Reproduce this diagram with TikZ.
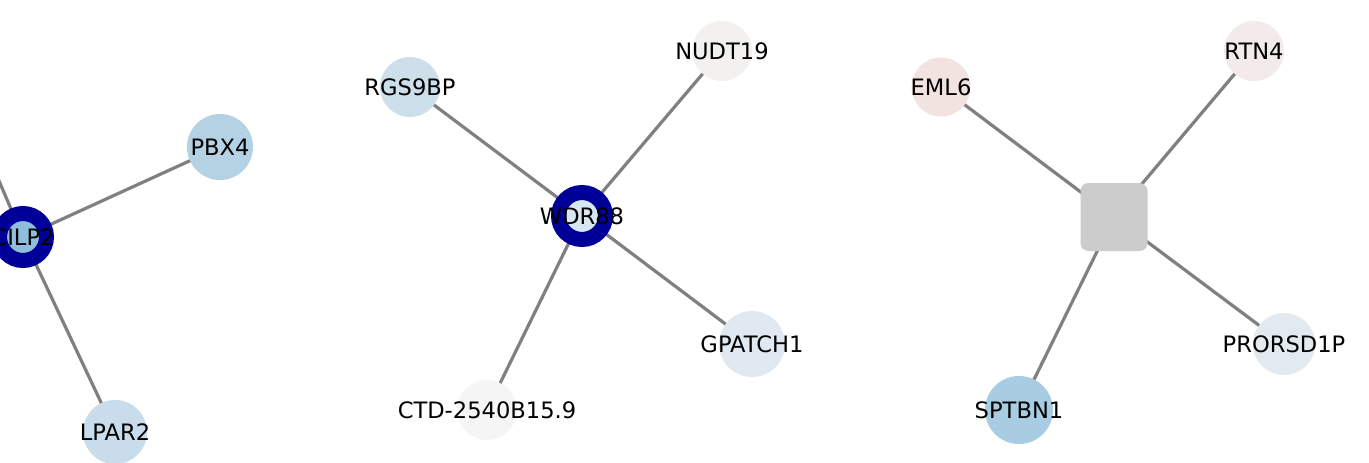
\documentclass[tikz,border=0pt]{standalone}
\usepackage{fontspec}
\setmainfont{DejaVu Sans}
\usetikzlibrary{backgrounds}
\definecolor{ring}{RGB}{0,0,153}
\definecolor{edgegray}{RGB}{128,128,128}
\definecolor{cCILP}{RGB}{143,190,220}
\definecolor{cPBX}{RGB}{180,210,228}
\definecolor{cLPAR}{RGB}{200,220,235}
\definecolor{cWDR}{RGB}{215,230,240}
\definecolor{cRGS}{RGB}{205,223,235}
\definecolor{cNUDT}{RGB}{243,241,240}
\definecolor{cGPATCH}{RGB}{224,233,242}
\definecolor{cCTD}{RGB}{245,245,245}
\definecolor{cEML}{RGB}{242,227,224}
\definecolor{cRTN}{RGB}{243,235,233}
\definecolor{cPROR}{RGB}{226,234,240}
\definecolor{cSPTBN}{RGB}{168,204,226}
\definecolor{cSquare}{RGB}{204,204,204}
\begin{document}
\begin{tikzpicture}[x=1pt,y=-1pt,
  gene/.style={circle, inner sep=0pt, draw=none},
  hub/.style={circle, inner sep=0pt, draw=ring, line width=15pt, minimum size=47pt},
  lbl/.style={font=\fontsize{22.6}{27}\selectfont, inner sep=0pt, text=black},
  link/.style={draw=edgegray, line width=3.2pt}]
\useasboundingbox (0,0) rectangle (1369,463);
\clip (0,0) rectangle (1369,463);
% cluster 1
\node[hub, fill=cCILP] (cilp) at (23,237) {};
\node[gene, fill=cPBX, minimum size=66pt] (pbx) at (220,147) {};
\node[gene, fill=cLPAR, minimum size=64pt] (lpar) at (115,432) {};
\coordinate (cout) at (-62,38);
% cluster 2
\node[hub, fill=cWDR] (wdr) at (582,216) {};
\node[gene, fill=cRGS, minimum size=60pt] (rgs) at (410,87) {};
\node[gene, fill=cNUDT, minimum size=60pt] (nudt) at (722,51) {};
\node[gene, fill=cGPATCH, minimum size=66pt] (gpatch) at (752,344) {};
\node[gene, fill=cCTD, minimum size=60pt] (ctd) at (487,410) {};
% cluster 3
\node[rectangle, rounded corners=8pt, fill=cSquare, minimum width=67pt, minimum height=68pt, inner sep=0pt] (sq) at (1114,217) {};
\node[gene, fill=cEML, minimum size=59pt] (eml) at (941,87) {};
\node[gene, fill=cRTN, minimum size=60pt] (rtn) at (1254,51) {};
\node[gene, fill=cPROR, minimum size=62pt] (pror) at (1284,344) {};
\node[gene, fill=cSPTBN, minimum size=68pt] (sptbn) at (1019,410) {};
% edges
\begin{scope}[on background layer]
\fill[white] (0,0) rectangle (1369,463);
\draw[link] (cilp.center) -- (cout);
\draw[link] (cilp.center) -- (pbx.center);
\draw[link] (cilp.center) -- (lpar.center);
\draw[link] (wdr.center) -- (rgs.center);
\draw[link] (wdr.center) -- (nudt.center);
\draw[link] (wdr.center) -- (gpatch.center);
\draw[link] (wdr.center) -- (ctd.center);
\draw[link] (sq.center) -- (eml.center);
\draw[link] (sq.center) -- (rtn.center);
\draw[link] (sq.center) -- (pror.center);
\draw[link] (sq.center) -- (sptbn.center);
\end{scope}
% labels
\node[lbl] (tcilp) at (cilp) {CILP2};
\node[lbl] (tpbx) at (pbx) {PBX4};
\node[lbl] (tlpar) at (lpar) {LPAR2};
\node[lbl] (twdr) at (wdr) {WDR88};
\node[lbl] (trgs) at (rgs) {RGS9BP};
\node[lbl] (tnudt) at (nudt) {NUDT19};
\node[lbl] (tgpatch) at (gpatch) {GPATCH1};
\node[lbl] (tctd) at (ctd) {CTD-2540B15.9};
\node[lbl] (teml) at (eml) {EML6};
\node[lbl] (trtn) at (rtn) {RTN4};
\node[lbl] (tpror) at (pror) {PRORSD1P};
\node[lbl] (tsptbn) at (sptbn) {SPTBN1};
\end{tikzpicture}
\end{document}
